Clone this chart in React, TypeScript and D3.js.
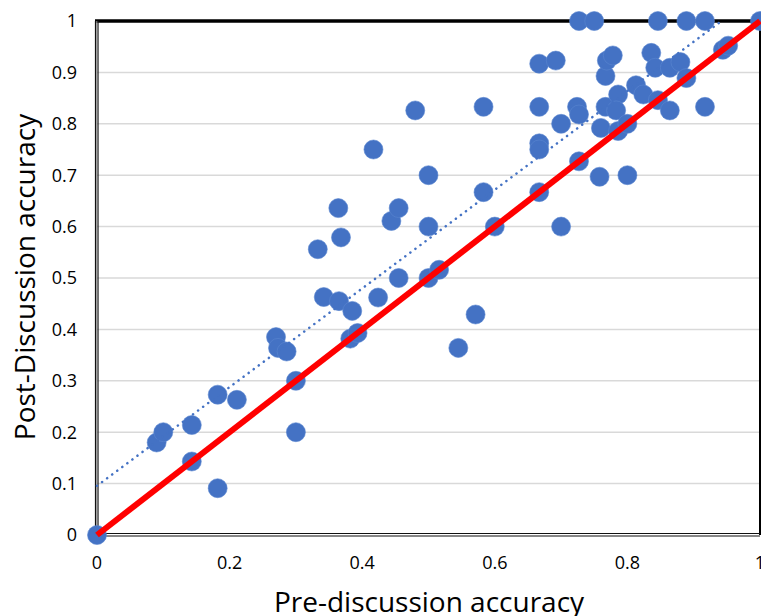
import React, { useEffect, useRef } from 'react';
import * as d3 from 'd3';

// pre-discussion accuracy (x) and post-discussion accuracy (y), one entry per group
const preAccuracy = [
  0, 0.09, 0.1, 0.143, 0.143, 0.182, 0.182, 0.211, 0.27, 0.273,
  0.286, 0.3, 0.3, 0.333, 0.342, 0.364, 0.368, 0.365, 0.385, 0.382,
  0.393, 0.417, 0.424, 0.444, 0.455, 0.455, 0.48, 0.5, 0.5, 0.5,
  0.516, 0.545, 0.571, 0.583, 0.583, 0.6, 0.667, 0.667, 0.667, 0.667,
  0.667, 0.692, 0.7, 0.7, 0.724, 0.727, 0.727, 0.727, 0.75, 0.758,
  0.76, 0.767, 0.767, 0.769, 0.778, 0.786, 0.783, 0.786, 0.8, 0.8,
  0.813, 0.824, 0.846, 0.836, 0.842, 0.846, 0.864, 0.864, 0.88, 0.889,
  0.889, 0.917, 0.917, 0.944, 0.952, 1,
];
const postAccuracy = [
  0, 0.18, 0.2, 0.214, 0.143, 0.091, 0.273, 0.263, 0.385, 0.364,
  0.357, 0.3, 0.2, 0.556, 0.463, 0.636, 0.579, 0.455, 0.436, 0.382,
  0.393, 0.75, 0.462, 0.611, 0.636, 0.5, 0.826, 0.7, 0.6, 0.5,
  0.516, 0.364, 0.429, 0.833, 0.667, 0.6, 0.917, 0.833, 0.762, 0.75,
  0.667, 0.923, 0.8, 0.6, 0.833, 0.818, 0.727, 1, 1, 0.697,
  0.792, 0.833, 0.893, 0.923, 0.933, 0.857, 0.826, 0.786, 0.8, 0.7,
  0.875, 0.857, 0.846, 0.938, 0.909, 1, 0.909, 0.826, 0.92, 0.889,
  1, 1, 0.833, 0.944, 0.952, 1,
];
const yTicks = [0, 0.1, 0.2, 0.3, 0.4, 0.5, 0.6, 0.7, 0.8, 0.9, 1];
const xTicks = [0, 0.2, 0.4, 0.6, 0.8, 1];

const W = 761;
const H = 616;
const left = 97;
const right = 760;
const top = 21;
const bottom = 535;
const font = '"Open Sans", "Noto Sans", sans-serif';
const blue = '#4472C4';

const App = () => {
  const ref = useRef<SVGGElement>(null);

  useEffect(() => {
    const g = d3.select(ref.current);
    g.selectAll('*').remove();

    const x = d3.scaleLinear().domain([0, 1]).range([left, right]);
    const y = d3.scaleLinear().domain([0, 1]).range([bottom, top]);
    const pts = preAccuracy.map((p, i) => [p, postAccuracy[i]] as [number, number]);

    // gridlines
    g.append('g')
      .selectAll('line')
      .data(yTicks.slice(1, -1))
      .join('line')
      .attr('x1', left)
      .attr('x2', right)
      .attr('y1', (d) => y(d))
      .attr('y2', (d) => y(d))
      .attr('stroke', '#d9d9d9')
      .attr('stroke-width', 1.5);

    // plot border / axes
    g.append('line')
      .attr('x1', right).attr('x2', right)
      .attr('y1', top).attr('y2', bottom)
      .attr('stroke', '#000').attr('stroke-width', 2);
    g.append('line')
      .attr('x1', left - 2).attr('x2', right + 1)
      .attr('y1', top).attr('y2', top)
      .attr('stroke', '#000').attr('stroke-width', 3.5);
    [-1.5, 1].forEach((o) => {
      g.append('line')
        .attr('x1', left + o).attr('x2', left + o)
        .attr('y1', top).attr('y2', bottom + 1)
        .attr('stroke', '#111').attr('stroke-width', 1.2);
      g.append('line')
        .attr('x1', left - 2).attr('x2', right)
        .attr('y1', bottom + o).attr('y2', bottom + o)
        .attr('stroke', '#111').attr('stroke-width', 1.2);
    });
    g.append('line')
      .attr('x1', left - 0.25).attr('x2', left - 0.25)
      .attr('y1', top).attr('y2', bottom)
      .attr('stroke', '#888').attr('stroke-width', 1);

    // tick labels
    g.append('g')
      .selectAll('text')
      .data(yTicks)
      .join('text')
      .attr('x', 77)
      .attr('y', (d) => y(d))
      .attr('dy', '0.36em')
      .attr('text-anchor', 'end')
      .style('font-family', font)
      .style('font-size', '18px')
      .style('fill', '#000')
      .text((d) => d3.format('~g')(d));
    g.append('g')
      .selectAll('text')
      .data(xTicks)
      .join('text')
      .attr('x', (d) => x(d))
      .attr('y', 569)
      .attr('text-anchor', 'middle')
      .style('font-family', font)
      .style('font-size', '18px')
      .style('fill', '#000')
      .text((d) => d3.format('~g')(d));

    // axis titles
    g.append('text')
      .attr('transform', 'translate(35,277) rotate(-90)')
      .attr('text-anchor', 'middle')
      .style('font-family', font)
      .style('font-size', '28px')
      .style('fill', '#000')
      .text('Post-Discussion accuracy');
    g.append('text')
      .attr('x', 429)
      .attr('y', 612)
      .attr('text-anchor', 'middle')
      .style('font-family', font)
      .style('font-size', '28px')
      .style('fill', '#000')
      .text('Pre-discussion accuracy');

    // markers
    g.append('g')
      .selectAll('circle')
      .data(pts)
      .join('circle')
      .attr('cx', (d) => x(d[0]))
      .attr('cy', (d) => y(d[1]))
      .attr('r', 9.5)
      .attr('fill', blue)
      .attr('stroke', '#5b86d0')
      .attr('stroke-width', 0.6);

    // linear trendline (least squares), clipped at y = 1
    const mx = d3.mean(preAccuracy) as number;
    const my = d3.mean(postAccuracy) as number;
    const sxy = d3.sum(pts, (d) => (d[0] - mx) * (d[1] - my));
    const sxx = d3.sum(pts, (d) => (d[0] - mx) ** 2);
    const slope = sxy / sxx;
    const icpt = my - slope * mx;
    const xEnd = Math.min(1, (1 - icpt) / slope);
    g.append('path')
      .datum([0, xEnd])
      .attr('d', d3.line<number>().x((d) => x(d)).y((d) => y(icpt + slope * d)))
      .attr('stroke', blue)
      .attr('stroke-width', 2.5)
      .attr('stroke-linecap', 'round')
      .attr('stroke-dasharray', '0.1 6.2')
      .attr('fill', 'none');

    // y = x reference
    g.append('path')
      .datum([0, 1])
      .attr('d', d3.line<number>().x((d) => x(d)).y((d) => y(d)))
      .attr('stroke', '#ff0000')
      .attr('stroke-width', 6)
      .attr('fill', 'none');
  }, []);

  return (
    <svg
      width={W}
      height={H}
      style={{ position: 'fixed', left: 0, top: 0, background: '#fff' }}
    >
      <g ref={ref} />
    </svg>
  );
};

export default App;
